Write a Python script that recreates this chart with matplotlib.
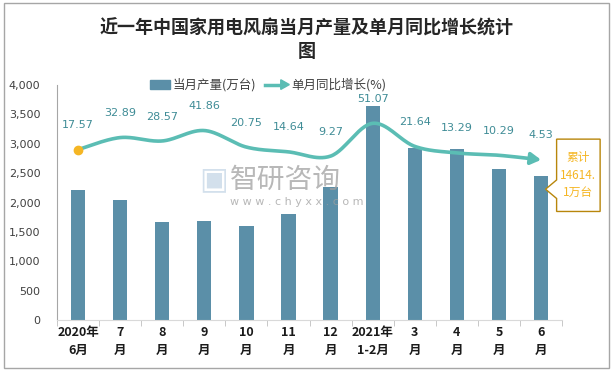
import numpy as np
import matplotlib.pyplot as plt
from matplotlib.patches import Rectangle, Polygon

plt.rcParams['font.family'] = ['Noto Sans CJK SC', 'DejaVu Sans']

# data
categories = ['2020年\n6月', '7\n月', '8\n月', '9\n月', '10\n月', '11\n月', '12\n月',
              '2021年\n1-2月', '3\n月', '4\n月', '5\n月', '6\n月']
production = [2210, 2040, 1668, 1685, 1600, 1803, 2265, 3640, 2935, 2915, 2575, 2460]
growth = [17.57, 32.89, 28.57, 41.86, 20.75, 14.64, 9.27, 51.07, 21.64, 13.29, 10.29, 4.53]
growth_labels = ['17.57', '32.89', '28.57', '41.86', '20.75', '14.64', '9.27',
                 '51.07', '21.64', '13.29', '10.29', '4.53']

bar_color = '#5B8FA8'
line_color = '#5BBDB4'
label_color = '#3F8C96'


def bezier_smooth(xs, ys, n=30):
    # smoothed line through the points, like excel does
    xs = np.asarray(xs, float)
    ys = np.asarray(ys, float)
    m = len(xs)
    ox, oy = [], []
    for i in range(m - 1):
        p0 = i - 1 if i > 0 else i
        p3 = i + 2 if i + 2 < m else i + 1
        c1x = xs[i] + (xs[i + 1] - xs[p0]) / 6
        c1y = ys[i] + (ys[i + 1] - ys[p0]) / 6
        c2x = xs[i + 1] - (xs[p3] - xs[i]) / 6
        c2y = ys[i + 1] - (ys[p3] - ys[i]) / 6
        t = np.linspace(0, 1, n, endpoint=(i == m - 2))
        bx = (1 - t) ** 3 * xs[i] + 3 * (1 - t) ** 2 * t * c1x + 3 * (1 - t) * t ** 2 * c2x + t ** 3 * xs[i + 1]
        by = (1 - t) ** 3 * ys[i] + 3 * (1 - t) ** 2 * t * c1y + 3 * (1 - t) * t ** 2 * c2y + t ** 3 * ys[i + 1]
        ox.extend(bx)
        oy.extend(by)
    return np.array(ox), np.array(oy)


fig = plt.figure(figsize=(6.13, 3.71), dpi=100)
fig.patches.append(Rectangle((0.006, 0.008), 0.987, 0.984, transform=fig.transFigure,
                             fill=False, edgecolor='#A6A6A6', linewidth=1))

ax = fig.add_axes([0.093, 0.137, 0.824, 0.634])
x = np.arange(len(categories))
ax.bar(x, production, width=0.34, color=bar_color, zorder=2)
ax.set_xlim(-0.5, len(categories) - 0.5)
ax.set_ylim(0, 4000)
ax.set_yticks(np.arange(0, 4001, 500))
ax.set_yticklabels([f'{v:,}' for v in range(0, 4001, 500)], fontsize=8, color='#404040',
                   family=['DejaVu Sans'])
ax.tick_params(axis='y', length=0, pad=12)
ax.set_xticks(x)
ax.set_xticklabels(categories, fontsize=9, fontweight='bold', color='#1a1a1a', linespacing=1.5)
ax.set_xticks(np.arange(-0.5, len(categories), 1), minor=True)
ax.tick_params(axis='x', which='major', length=0, pad=4)
ax.tick_params(axis='x', which='minor', length=4, color='#BFBFBF')
for s in ['top', 'right']:
    ax.spines[s].set_visible(False)
ax.spines['left'].set_color('#A6A6A6')
ax.spines['bottom'].set_color('#D9D9D9')

ax2 = ax.twinx()
ax2.set_ylim(-200, 100)
ax2.axis('off')
sx, sy = bezier_smooth(x, growth)
ax2.plot(sx[:-8], sy[:-8], color=line_color, linewidth=2.6, solid_capstyle='round', zorder=3)
ax2.annotate('', xy=(sx[-1], sy[-1]), xytext=(sx[-10], sy[-10]),
             arrowprops=dict(arrowstyle='-|>,head_length=0.6,head_width=0.35',
                             color=line_color, lw=2.6, shrinkA=0, shrinkB=0))
ax2.plot([x[0]], [growth[0]], 'o', color='#F5B624', markersize=6, zorder=4)
for xi, g, t in zip(x, growth, growth_labels):
    ax2.annotate(t, (xi, g), xytext=(0, 14), textcoords='offset points', ha='center',
                 va='bottom', fontsize=8, color=label_color, family=['DejaVu Sans'])

# legend
ly = 0.772
fig.patches.append(Rectangle((0.245, ly - 0.012), 0.033, 0.024, transform=fig.transFigure,
                             color=bar_color))
fig.text(0.281, ly, '当月产量(万台)', fontsize=9, va='center', color='#404040')
fig.add_artist(plt.Line2D([0.432, 0.462], [ly, ly], transform=fig.transFigure,
                          color=line_color, lw=2.5))
fig.add_artist(Polygon([[0.458, ly + 0.013], [0.472, ly], [0.458, ly - 0.013]], closed=True,
                       transform=fig.transFigure, color=line_color))
fig.text(0.475, ly, '单月同比增长(%)', fontsize=9, va='center', color='#404040')

# title
fig.text(0.5, 0.925, '近一年中国家用电风扇当月产量及单月同比增长统计', fontsize=13,
         fontweight='bold', ha='center', va='center', color='#262626')
fig.text(0.5, 0.862, '图', fontsize=13, fontweight='bold', ha='center', va='center',
         color='#262626')

# watermark
fig.text(0.325, 0.515, '▣', fontsize=22, color='#C9D9E8', ha='left', va='center', alpha=0.8,
         family=['DejaVu Sans'])
fig.text(0.375, 0.515, '智研咨询', fontsize=20, color='#A0A0A0', ha='left', va='center', alpha=0.75)
fig.text(0.375, 0.455, 'w w w . c h y x x . c o m', fontsize=8, color='#A0A0A0', ha='left',
         va='center', alpha=0.75, family=['DejaVu Sans'])

# callout
box_l, box_b, box_w, box_h = 0.908, 0.43, 0.071, 0.195
fig.add_artist(Polygon([[box_l, box_b + box_h], [box_l + box_w, box_b + box_h],
                        [box_l + box_w, box_b], [box_l, box_b], [box_l, box_b + 0.035],
                        [box_l - 0.018, box_b + 0.06], [box_l, box_b + 0.085]],
                       closed=True, transform=fig.transFigure, facecolor='white',
                       edgecolor='#B8860B', linewidth=1, zorder=5))
fig.text(box_l + box_w / 2, box_b + box_h / 2, '累计\n14614.\n1万台', fontsize=8.5,
         color='#F5B624', ha='center', va='center', linespacing=1.45, zorder=6)

fig.savefig('out.png', dpi=100)
